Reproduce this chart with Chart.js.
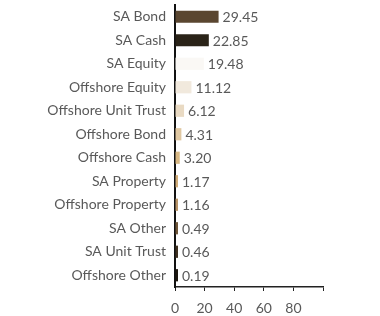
<!DOCTYPE html>
<html><head><meta charset="utf-8">
<script src="https://cdn.jsdelivr.net/npm/chart.js@4/dist/chart.umd.min.js"></script>
<style>html,body{margin:0;padding:0;background:#fff}#wrap{width:380px;height:316px}</style>
</head><body><div id="wrap"><canvas id="c" width="380" height="316"></canvas></div>
<script>
const categories = ["SA Bond","SA Cash","SA Equity","Offshore Equity","Offshore Unit Trust","Offshore Bond","Offshore Cash","SA Property","Offshore Property","SA Other","SA Unit Trust","Offshore Other"];
const values = [29.45,22.85,19.48,11.12,6.12,4.31,3.20,1.17,1.16,0.49,0.46,0.19];
const barColors = ["#5a4630","#2a2318","#faf8f5","#f1e9dd","#e9dac3","#e0c8a2","#d8b884","#d0ac78","#b89468","#6e5538","#3e3020","#1c160e"];
const xTicks = [0,20,40,60,80];
const FONT = 'Lato, "Open Sans", sans-serif';

const labelPlugin = {
  id:'vals',
  afterDatasetsDraw(chart){
    const ctx = chart.ctx;
    const meta = chart.getDatasetMeta(0);
    ctx.save();
    ctx.font = '14px ' + FONT;
    ctx.fillStyle = '#595959';
    ctx.textBaseline = 'middle';
    ctx.textAlign = 'left';
    meta.data.forEach((el,i)=>{
      ctx.fillText(values[i].toFixed(2), el.x + 4, el.y + 1);
    });
    ctx.restore();
  }
};

new Chart(document.getElementById('c'), {
  type:'bar',
  data:{labels:categories, datasets:[{data:values, backgroundColor:barColors, borderWidth:0, categoryPercentage:1, barPercentage:0.52, minBarLength:3}]},
  options:{
    indexAxis:'y', responsive:false, animation:false,
    layout:{padding:{top:5,right:57,bottom:0,left:0}},
    plugins:{legend:{display:false}, tooltip:{enabled:false}},
    scales:{
      x:{min:0,max:100,
        afterBuildTicks(ax){ ax.ticks = [0,20,40,60,80,100].map(v=>({value:v})); },
        afterFit(ax){ ax.height = 29; ax.paddingLeft = 0; ax.paddingRight = 0; },
        ticks:{color:'#595959',font:{family:FONT,size:14},padding:9,maxRotation:0,
          callback:(v)=> xTicks.includes(v) ? String(v) : ''},
        grid:{display:true,drawOnChartArea:false,drawTicks:true,tickLength:4,color:'#222'},
        border:{display:true,color:'#222',width:1.5}},
      y:{afterFit(ax){ ax.width = 175; ax.paddingTop = 0; ax.paddingBottom = 0; },
        ticks:{color:'#595959',font:{family:FONT,size:14},padding:1},
        grid:{display:false},
        border:{display:true,color:'#111',width:2}}
    }
  },
  plugins:[labelPlugin]
});
</script></body></html>
